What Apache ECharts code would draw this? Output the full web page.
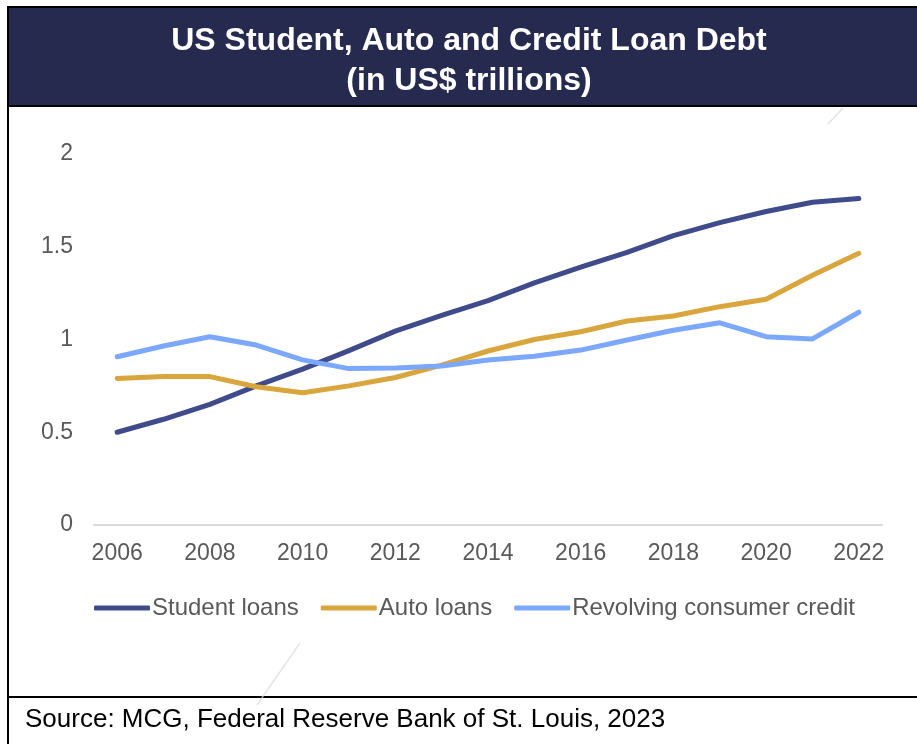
<!DOCTYPE html>
<html>
<head>
<meta charset="utf-8">
<title>US Student, Auto and Credit Loan Debt</title>
<script src="https://cdn.jsdelivr.net/npm/echarts@6/dist/echarts.min.js"></script>
<style>
  html, body { margin: 0; padding: 0; background: #ffffff; }
  #chart { width: 917px; height: 744px; }
</style>
</head>
<body>
<div id="chart"></div>
<script>
// Years on the category axis
const years = ['2006','2007','2008','2009','2010','2011','2012','2013','2014',
               '2015','2016','2017','2018','2019','2020','2021','2022'];

// Outstanding balances, US$ trillions
const studentLoans = [0.50, 0.57, 0.65, 0.75, 0.84, 0.94, 1.045, 1.13, 1.21,
                      1.305, 1.39, 1.47, 1.56, 1.63, 1.69, 1.74, 1.76];
const autoLoans    = [0.79, 0.80, 0.80, 0.745, 0.713, 0.75, 0.795, 0.862, 0.938,
                      1.00, 1.042, 1.10, 1.127, 1.177, 1.217, 1.346, 1.465];
const revolvingCredit = [0.907, 0.965, 1.015, 0.97, 0.89, 0.843, 0.846, 0.857, 0.89,
                         0.91, 0.943, 0.997, 1.05, 1.09, 1.015, 1.003, 1.147];

const seriesNames = ['Student loans', 'Auto loans', 'Revolving consumer credit'];
const titleLines = ['US Student, Auto and Credit Loan Debt', '(in US$ trillions)'];
const sourceNote = 'Source: MCG, Federal Reserve Bank of St. Louis, 2023';

const colors = ['#3f4b8b', '#d9a53d', '#7ba7fd'];
const FONT = '"Liberation Sans", Arial, sans-serif';

const chart = echarts.init(document.getElementById('chart'), null, { renderer: 'canvas' });

function lineSeries(name, data, color) {
  return {
    name: name,
    type: 'line',
    data: data,
    showSymbol: false,
    symbol: 'none',
    smooth: false,
    lineStyle: { color: color, width: 5, cap: 'round', join: 'round' },
    itemStyle: { color: color },
    emphasis: { disabled: true },
    z: 3
  };
}

chart.setOption({
  animation: false,
  backgroundColor: '#ffffff',
  color: colors,
  legend: {
    data: seriesNames,
    left: 89,
    top: 591,
    icon: 'roundRect',
    itemWidth: 56,
    itemHeight: 5,
    itemGap: 22,
    textStyle: { color: '#595959', fontFamily: FONT, fontSize: 24, padding: [0, 0, 0, -3] }
  },
  grid: { left: 94, right: 35, top: 154, bottom: 219, containLabel: false },
  xAxis: {
    type: 'category',
    data: years,
    boundaryGap: true,
    axisLine: { show: true, lineStyle: { color: '#d9d9d9', width: 2 } },
    axisTick: { show: false },
    axisLabel: {
      interval: 1,
      margin: 17,
      color: '#595959',
      fontFamily: FONT,
      fontSize: 23
    },
    splitLine: { show: false }
  },
  yAxis: {
    type: 'value',
    min: 0,
    max: 2,
    interval: 0.5,
    axisLine: { show: false },
    axisTick: { show: false },
    splitLine: { show: false },
    axisLabel: {
      margin: 21,
      color: '#595959',
      fontFamily: FONT,
      fontSize: 23
    }
  },
  series: [
    lineSeries(seriesNames[0], studentLoans, colors[0]),
    lineSeries(seriesNames[1], autoLoans, colors[1]),
    lineSeries(seriesNames[2], revolvingCredit, colors[2])
  ],
  graphic: [
    // dark header band
    { type: 'rect', shape: { x: 9, y: 8, width: 908, height: 97 },
      style: { fill: '#262a4f' }, z: -1 },
    // header text, two centred lines
    { type: 'text', x: 469, y: 41, z: 5,
      style: { text: titleLines[0], fill: '#ffffff', align: 'center', verticalAlign: 'middle',
               font: 'bold 32px ' + FONT } },
    { type: 'text', x: 469, y: 81, z: 5,
      style: { text: titleLines[1], fill: '#ffffff', align: 'center', verticalAlign: 'middle',
               font: 'bold 32px ' + FONT } },
    // frame lines
    { type: 'line', shape: { x1: 8, y1: 7, x2: 917, y2: 7 },
      style: { stroke: '#000000', lineWidth: 2 } },
    { type: 'line', shape: { x1: 8, y1: 106, x2: 917, y2: 106 },
      style: { stroke: '#000000', lineWidth: 2 } },
    { type: 'line', shape: { x1: 8, y1: 6, x2: 8, y2: 744 },
      style: { stroke: '#000000', lineWidth: 2 } },
    { type: 'line', shape: { x1: 8, y1: 697, x2: 917, y2: 697 },
      style: { stroke: '#000000', lineWidth: 2 } },
    // faint diagonal strokes
    { type: 'line', shape: { x1: 843, y1: 108, x2: 828, y2: 124 },
      style: { stroke: '#d6d6d6', lineWidth: 1.5, opacity: 0.7 } },
    { type: 'line', shape: { x1: 300, y1: 643, x2: 257, y2: 705 },
      style: { stroke: '#dadada', lineWidth: 1.5, opacity: 0.7 } },
    // source note
    { type: 'text', left: 25, top: 707,
      style: { text: sourceNote, fill: '#000000', font: '26px ' + FONT } }
  ]
});
</script>
</body>
</html>
